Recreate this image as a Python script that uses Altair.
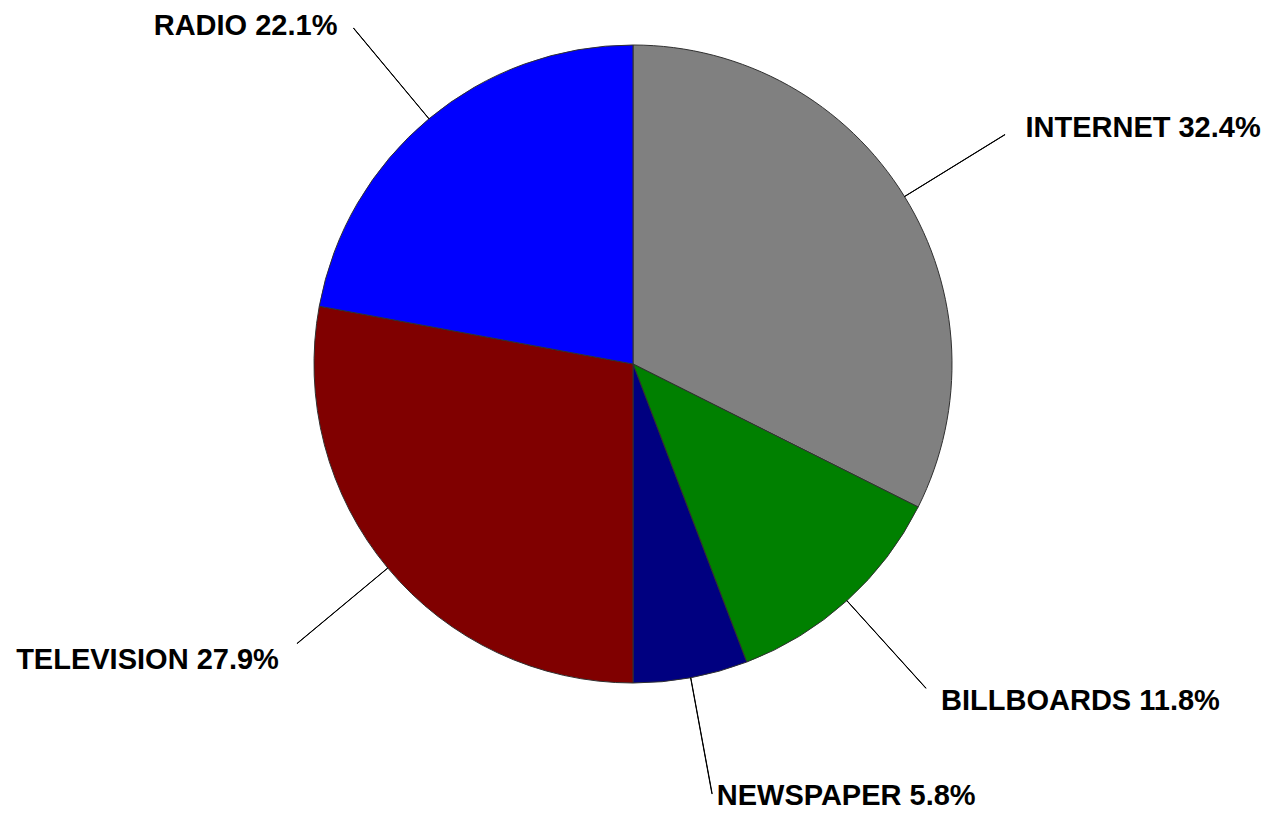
import altair as alt
import pandas as pd

categories = ["INTERNET", "BILLBOARDS", "NEWSPAPER", "TELEVISION", "RADIO"]
shares = [32.4, 11.8, 5.8, 27.9, 22.1]
colors = ["#808080", "#008000", "#000080", "#800000", "#0000FF"]

# label placement styling (alignment and pixel nudges), kept apart from the data
label_style = {
    "INTERNET": dict(align="left", dx=18, dy=-5),
    "BILLBOARDS": dict(align="left", dx=13, dy=11),
    "NEWSPAPER": dict(align="left", dx=4, dy=-1),
    "TELEVISION": dict(align="right", dx=-16, dy=14),
    "RADIO": dict(align="right", dx=-14, dy=0),
}

df = pd.DataFrame({"cat": categories, "share": shares,
                   "order": list(range(len(categories)))})

base = alt.Chart(df).transform_window(
    cum="sum(share)", sort=[alt.SortField("order")], frame=[None, 0]
).transform_calculate(
    start="datum.cum - datum.share",
    mid="datum.cum - datum.share / 2",
    mid2="datum.cum - datum.share / 2 + 0.01",
    label="datum.cat + ' ' + format(datum.share, '.1f') + '%'",
)

theta_scale = alt.Scale(domain=[0, 100])

pie = base.mark_arc(outerRadius=319, stroke="#303030", strokeWidth=1).encode(
    theta=alt.Theta("start:Q", scale=theta_scale, stack=False),
    theta2="cum:Q",
    color=alt.Color("cat:N", scale=alt.Scale(domain=categories, range=colors), legend=None),
)

leaders = base.mark_arc(innerRadius=319, outerRadius=437, stroke="black",
                        strokeWidth=1, fill="black").encode(
    theta=alt.Theta("mid:Q", scale=theta_scale, stack=False),
    theta2="mid2:Q",
)

layers = [pie, leaders]
for cat in categories:
    st = label_style[cat]
    layers.append(
        base.transform_filter(alt.datum.cat == cat).mark_text(
            radius=440, baseline="middle", font="Liberation Sans",
            fontWeight="bold", fontSize=29, color="black", **st
        ).encode(
            theta=alt.Theta("mid:Q", scale=theta_scale, stack=False),
            text="label:N",
        )
    )

chart = alt.layer(*layers).properties(
    width=1250,
    height=712,
    padding={"left": 0, "top": 0, "right": 6, "bottom": 94},
    autosize=alt.AutoSizeParams(type="none"),
).configure_view(strokeWidth=0)

chart.save("out.html", embed_options={"renderer": "svg", "actions": False})
